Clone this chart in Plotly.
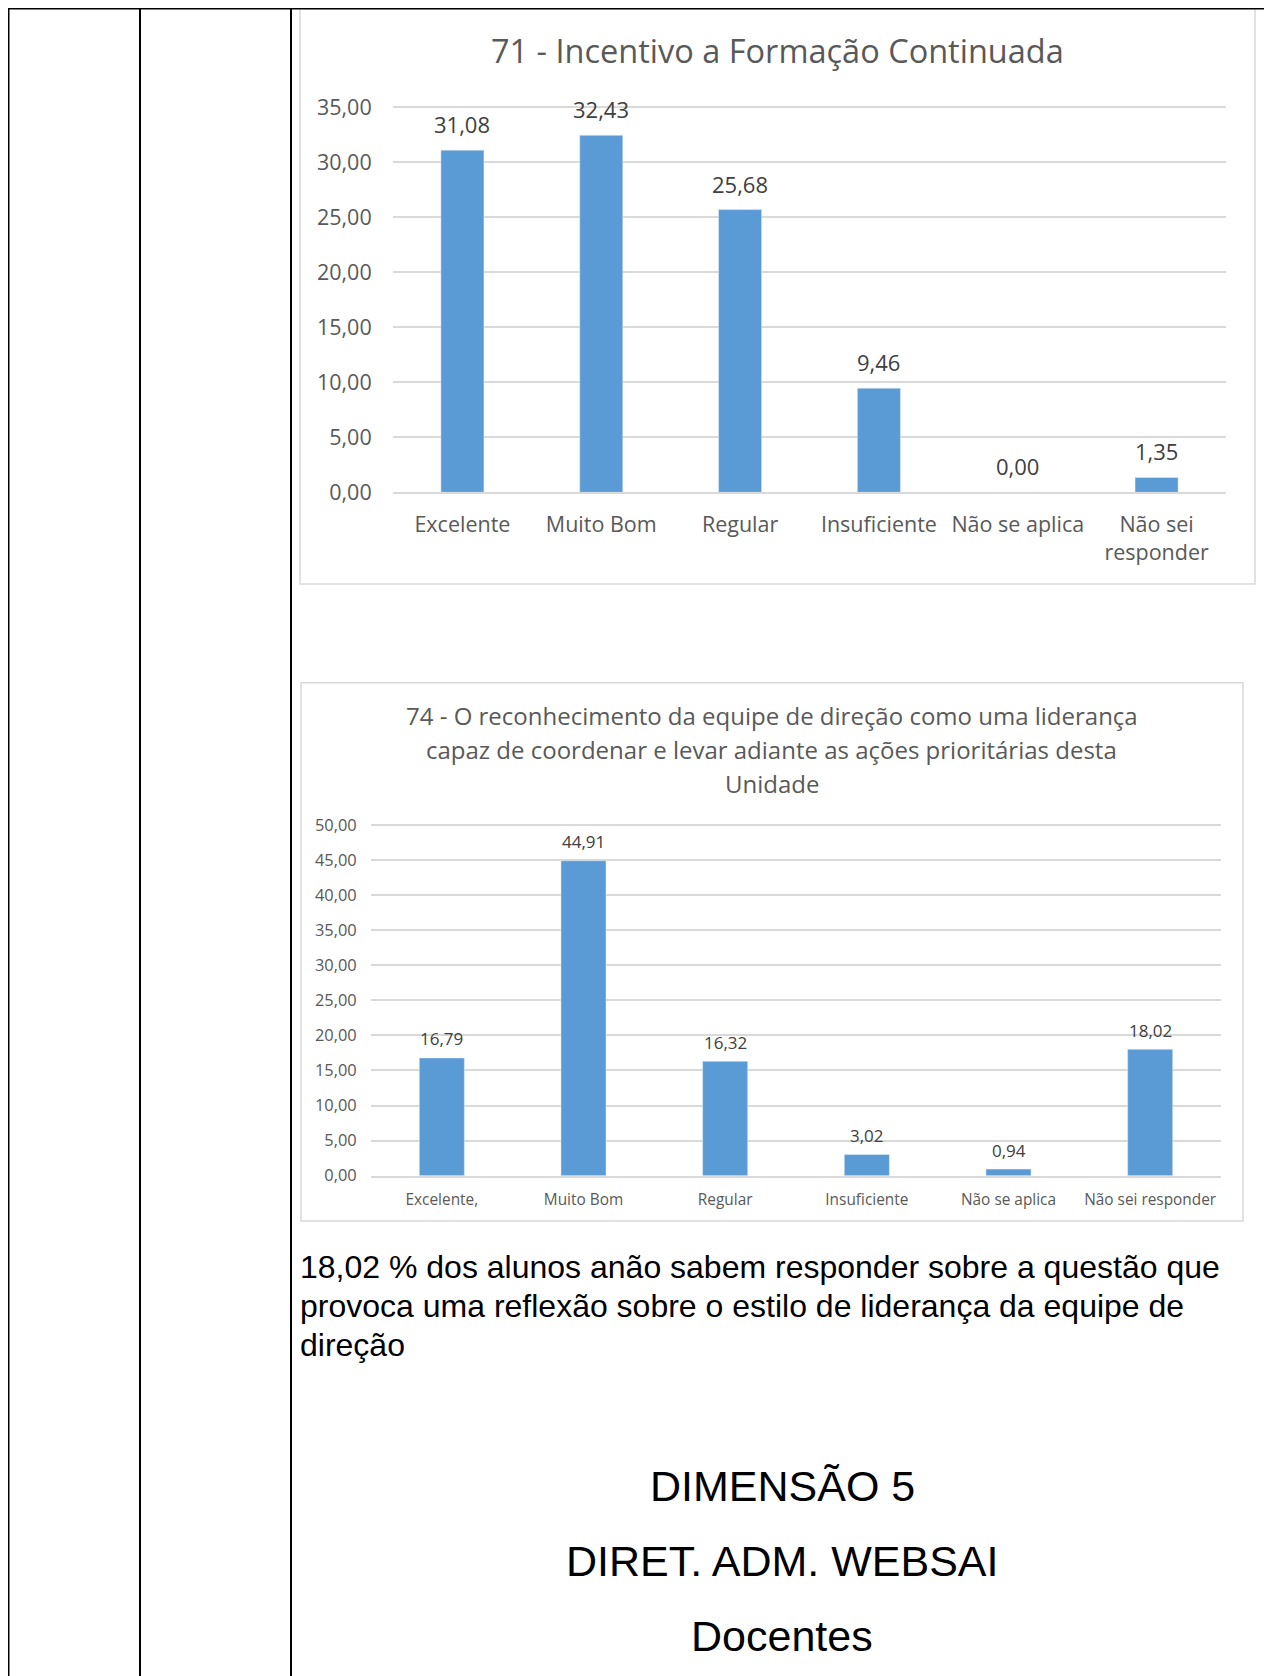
import plotly.graph_objects as go

# ---------------- data ----------------
categories1 = ["Excelente", "Muito Bom", "Regular", "Insuficiente", "Não se aplica", "Não sei<br>responder"]
values1 = [31.08, 32.43, 25.68, 9.46, 0.00, 1.35]
yticks1 = [0, 5, 10, 15, 20, 25, 30, 35]
title1 = "71 - Incentivo a Formação Continuada"

categories2 = ["Excelente,", "Muito Bom", "Regular", "Insuficiente", "Não se aplica", "Não sei responder"]
values2 = [16.79, 44.91, 16.32, 3.02, 0.94, 18.02]
yticks2 = [0, 5, 10, 15, 20, 25, 30, 35, 40, 45, 50]
title2_lines = [
    "74 - O reconhecimento da equipe de direção como uma liderança",
    "capaz de coordenar e levar adiante as ações prioritárias desta",
    "Unidade",
]

note_lines = [
    "18,02 % dos alunos anão sabem responder sobre a questão que",
    "provoca uma reflexão sobre o estilo de liderança da equipe de",
    "direção",
]
heading_lines = ["DIMENSÃO 5", "DIRET. ADM. WEBSAI", "Docentes"]

# ---------------- helpers ----------------
# The page body adds an 8px margin; the figure covers the window area after it.
OFF = 8
W, H = 1272 - OFF, 1676 - OFF
def px(x):
    return (x - OFF) / W
def py(y):
    return 1 - (y - OFF) / H

BAR = "#5B9BD5"
GRID = "#D9D9D9"
AXTXT = "#595959"
LBL = "#404040"
CHART_FONT = "Open Sans"
DOC_FONT = "Liberation Sans, Arial, sans-serif"

def fmt(v):
    return f"{v:.2f}".replace(".", ",")

fig = go.Figure()
fig.add_trace(go.Bar(x=categories1, y=values1, marker_color=BAR, width=0.31,
                     xaxis="x", yaxis="y", hoverinfo="skip"))
fig.add_trace(go.Bar(x=categories2, y=values2, marker_color=BAR, width=0.318,
                     xaxis="x2", yaxis="y2", hoverinfo="skip"))

annotations = []
for c, v in zip(categories1, values1):
    annotations.append(dict(x=c, y=v, xref="x", yref="y", text=fmt(v), showarrow=False,
                            yanchor="middle", yshift=26,
                            font=dict(family=CHART_FONT, size=22, color=LBL)))
for c, v in zip(categories2, values2):
    annotations.append(dict(x=c, y=v, xref="x2", yref="y2", text=fmt(v), showarrow=False,
                            yanchor="middle", yshift=19,
                            font=dict(family=CHART_FONT, size=17, color=LBL)))

annotations.append(dict(x=px(777.5), y=py(51), xref="paper", yref="paper", text=title1,
                        showarrow=False, xanchor="center", yanchor="middle",
                        font=dict(family=CHART_FONT, size=32.5, color=AXTXT)))
for t, yy in zip(title2_lines, [715, 749.5, 783.6]):
    annotations.append(dict(x=px(771.5), y=py(yy), xref="paper", yref="paper", text=t,
                            showarrow=False, xanchor="center", yanchor="middle",
                            font=dict(family=CHART_FONT, size=24, color=AXTXT)))
for t, yy in zip(note_lines, [1266.6, 1306, 1344.7]):
    annotations.append(dict(x=px(298), y=py(yy), xref="paper", yref="paper", text=t,
                            showarrow=False, xanchor="left", yanchor="middle",
                            font=dict(family=DOC_FONT, size=32, color="black")))
for t, yy in zip(heading_lines, [1486, 1560.6, 1635.5]):
    annotations.append(dict(x=px(782), y=py(yy), xref="paper", yref="paper", text=t,
                            showarrow=False, xanchor="center", yanchor="middle",
                            font=dict(family=DOC_FONT, size=43, color="black")))

shapes = []
# chart boxes
for (x0, y0, x1, y1) in [(300, 8.5, 1255, 584), (301, 682.7, 1243, 1221)]:
    shapes.append(dict(type="rect", xref="paper", yref="paper",
                       x0=px(x0), x1=px(x1), y0=py(y0), y1=py(y1),
                       line=dict(color=GRID, width=1.5), fillcolor="rgba(0,0,0,0)"))
# table lines
for xx in [8.5, 140, 291]:
    shapes.append(dict(type="line", xref="paper", yref="paper",
                       x0=px(xx), x1=px(xx), y0=py(8), y1=py(1676),
                       line=dict(color="black", width=2)))
shapes.append(dict(type="line", xref="paper", yref="paper",
                   x0=px(8), x1=px(1272), y0=py(8.5), y1=py(8.5),
                   line=dict(color="black", width=2)))

def xax(domain, size, ticklen):
    return dict(domain=domain, type="category", showgrid=False, zeroline=False,
                showline=True, linecolor=GRID, linewidth=1.5, automargin=False,
                ticks="outside", ticklen=ticklen, tickcolor="rgba(0,0,0,0)",
                tickfont=dict(family=CHART_FONT, size=size, color=AXTXT),
                fixedrange=True)

def yax(domain, rng, tickvals, size, ticklen, anchor):
    return dict(domain=domain, range=rng, tickvals=tickvals, tickformat=".2f",
                showgrid=True, gridcolor=GRID, gridwidth=1.5, zeroline=False,
                showline=False, ticks="outside", ticklen=ticklen, automargin=False,
                tickcolor="rgba(0,0,0,0)", anchor=anchor,
                tickfont=dict(family=CHART_FONT, size=size, color=AXTXT),
                fixedrange=True)

# axis ranges slightly above the top tick so the top gridline is drawn
top1, top2 = 35.3, 50.3
k1 = (492.3 - 107) / 35.0
k2 = (1175.7 - 825) / 50.0

fig.update_layout(
    width=W, height=H, autosize=False,
    margin=dict(l=0, r=0, t=0, b=0, pad=0),
    paper_bgcolor="white", plot_bgcolor="white",
    showlegend=False, separators=",.",
    xaxis=dict(**xax([px(393), px(1226)], 21.5, 12), anchor="y"),
    yaxis=yax([py(492.3), py(492.3 - top1 * k1)], [0, top1], yticks1, 21.5, 16, "x"),
    xaxis2=dict(**xax([px(371), px(1221)], 15.4, 9), anchor="y2"),
    yaxis2=yax([py(1175.7), py(1175.7 - top2 * k2)], [0, top2], yticks2, 16.4, 10, "x2"),
    annotations=annotations,
    shapes=shapes,
)

fig.write_html("out.html")
